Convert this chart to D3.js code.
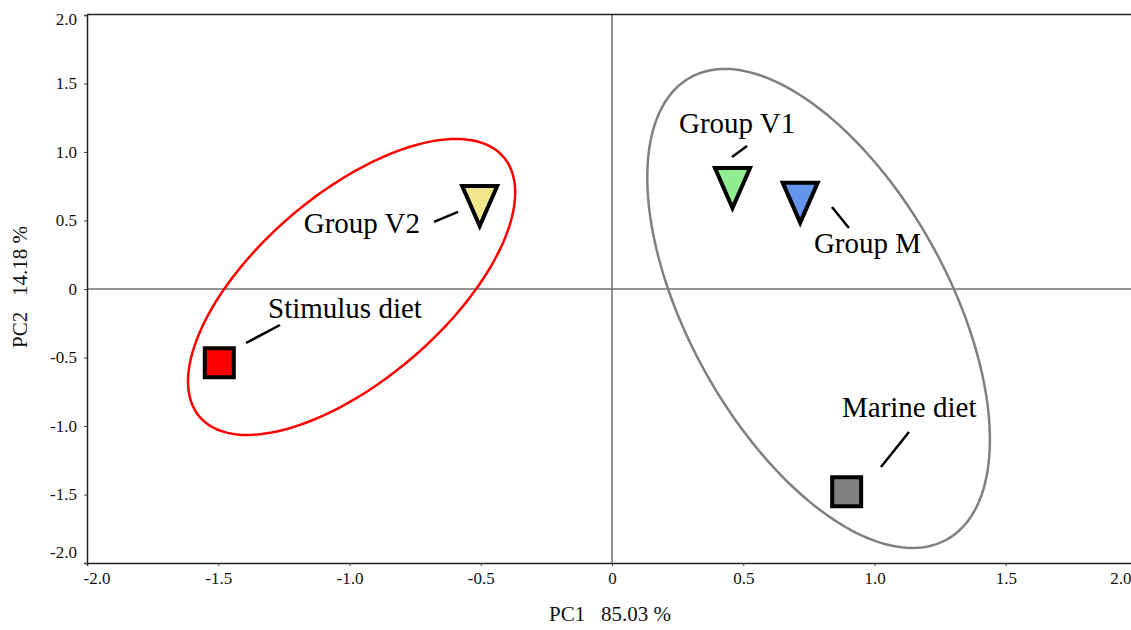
<!DOCTYPE html>
<html>
<head>
<meta charset="utf-8">
<script src="https://cdn.jsdelivr.net/npm/d3@7"></script>
<style>
  html, body { margin: 0; padding: 0; background: #fff; }
  svg { display: block; font-family: "Liberation Serif", "Times New Roman", serif; }
</style>
</head>
<body>
<svg id="chart" width="1131" height="630"></svg>
<script>
// Sample scores on the first two principal components
const sampleNames = ["Stimulus diet", "Group V2", "Group V1", "Group M", "Marine diet"];
const pc1Scores   = [-1.496, -0.504, 0.459, 0.717, 0.894];
const pc2Scores   = [-0.538, 0.655, 0.786, 0.679, -1.480];
const markerShapes = ["square", "triangleDown", "triangleDown", "triangleDown", "square"];
const markerFills  = ["#ff0000", "#f0e68c", "#90ee90", "#6495ed", "#808080"];

// Group ellipses (centre, semi-axes and rotation in PC units)
const ellipseCx    = [-0.992, 0.787];
const ellipseCy    = [0.015, -0.142];
const ellipseRx    = [1.165, 1.788];
const ellipseRy    = [0.445, 0.534];
const ellipseAngle = [66.1, -77.3];
const ellipseColor = ["#ff0000", "#808080"];

// Axis ticks and titles
const tickValues = [-2.0, -1.5, -1.0, -0.5, 0, 0.5, 1.0, 1.5, 2.0];
const tickLabels = ["-2.0", "-1.5", "-1.0", "-0.5", "0", "0.5", "1.0", "1.5", "2.0"];
const xTitle = "PC1   85.03 %";
const yTitle = "PC2   14.18 %";

// Label placement relative to each marker (pixels): leader line and text anchor
const leaderFrom = [[26.7, -19.7], [-45.7, 22.7], [-0.5, -24.3], [31.7, 11], [34.3, -24.7]];
const leaderTo   = [[60.7, -37.7], [-21.7, 12.7], [14.5, -35.3], [48.7, 32], [62.3, -59.7]];
const labelAt    = [[48.7, -44.7], [-59.7, 33.7], [-53.5, -48.3], [13.7, 57], [-4.7, -74.7]];
const labelAnchor = ["start", "end", "start", "start", "start"];

const svg = d3.select("#chart");
const plotLeft = 87, plotRight = 1137, plotTop = 15, plotBottom = 563;

const x = d3.scaleLinear().domain([-2, 2]).range([plotLeft, plotRight]);
const y = d3.scaleLinear().domain([-2, 2]).range([plotBottom, plotTop]);

const fmt = v => tickLabels[tickValues.indexOf(v)];

// Zero reference lines
svg.append("line")
  .attr("x1", x(0)).attr("x2", x(0)).attr("y1", plotTop).attr("y2", plotBottom)
  .attr("stroke", "#707070").attr("stroke-width", 1.5);
svg.append("line")
  .attr("x1", plotLeft).attr("x2", plotRight).attr("y1", y(0)).attr("y2", y(0))
  .attr("stroke", "#707070").attr("stroke-width", 1.5);

// Top frame line
svg.append("line")
  .attr("x1", plotLeft).attr("x2", plotRight).attr("y1", plotTop - 0.5).attr("y2", plotTop - 0.5)
  .attr("stroke", "#222").attr("stroke-width", 1.5);

// X axis
const xAxis = svg.append("g")
  .attr("transform", `translate(0,${plotBottom})`)
  .call(d3.axisBottom(x).tickValues(tickValues).tickFormat(fmt).tickSize(3).tickPadding(6));
xAxis.attr("font-family", null);
xAxis.select(".domain").attr("stroke", "#222").attr("stroke-width", 1.5);
xAxis.selectAll(".tick line").attr("stroke", "#444");
xAxis.selectAll(".tick text")
  .attr("font-family", "Liberation Serif, serif").attr("font-size", 17).attr("fill", "#111")
  .attr("text-anchor", d => d === -2 ? "start" : d === 2 ? "end" : "middle")
  .attr("dx", d => d === -2 ? -4 : d === 2 ? -6 : 0);

// Y axis
const yAxis = svg.append("g")
  .attr("transform", `translate(${plotLeft},0)`)
  .call(d3.axisLeft(y).tickValues(tickValues).tickFormat(fmt).tickSize(3).tickPadding(7));
yAxis.attr("font-family", null);
yAxis.select(".domain").attr("stroke", "#222").attr("stroke-width", 1.5);
yAxis.selectAll(".tick line").attr("stroke", "#444");
yAxis.selectAll(".tick text")
  .attr("font-family", "Liberation Serif, serif").attr("font-size", 17).attr("fill", "#111")
  .attr("dy", d => d === 2 ? "0.55em" : d === -2 ? "-0.35em" : "0.32em");

// Axis titles
svg.append("text")
  .attr("x", 610).attr("y", 621)
  .attr("text-anchor", "middle").attr("font-size", 21).attr("fill", "#111")
  .style("white-space", "pre")
  .text(xTitle);
svg.append("text")
  .attr("transform", "translate(27,287) rotate(-90)")
  .attr("text-anchor", "middle").attr("font-size", 21).attr("fill", "#111")
  .style("white-space", "pre")
  .text(yTitle);

// Ellipses traced through the data scales
const steps = d3.range(0, 360, 2).map(d => d * Math.PI / 180);
const ellipseLine = d3.line().x(d => x(d[0])).y(d => y(d[1])).curve(d3.curveLinearClosed);
ellipseCx.forEach((cx, i) => {
  const a = ellipseAngle[i] * Math.PI / 180;
  const pts = steps.map(t => {
    const u = ellipseRx[i] * Math.cos(t), v = ellipseRy[i] * Math.sin(t);
    return [cx + u * Math.cos(a) - v * Math.sin(a), ellipseCy[i] + u * Math.sin(a) + v * Math.cos(a)];
  });
  svg.append("path")
    .attr("d", ellipseLine(pts))
    .attr("fill", "none")
    .attr("stroke", ellipseColor[i])
    .attr("stroke-width", 2.5);
});

// Marker shapes
function markerPath(shape) {
  if (shape === "square") {
    const s = 29;
    return `M${-s/2},${-s/2}H${s/2}V${s/2}H${-s/2}Z`;
  }
  const w = 35, h = 40;
  return `M${-w/2},${-h/3}L${w/2},${-h/3}L0,${2*h/3}Z`;
}

const samples = sampleNames.map((name, i) => ({
  name, pc1: pc1Scores[i], pc2: pc2Scores[i], shape: markerShapes[i], fill: markerFills[i], i
}));

// Leader lines
svg.append("g").selectAll("line").data(samples).join("line")
  .attr("x1", d => x(d.pc1) + leaderFrom[d.i][0])
  .attr("y1", d => y(d.pc2) + leaderFrom[d.i][1])
  .attr("x2", d => x(d.pc1) + leaderTo[d.i][0])
  .attr("y2", d => y(d.pc2) + leaderTo[d.i][1])
  .attr("stroke", "#000").attr("stroke-width", 2.5);

// Markers
svg.append("g").selectAll("path").data(samples).join("path")
  .attr("transform", d => `translate(${x(d.pc1)},${y(d.pc2)})`)
  .attr("d", d => markerPath(d.shape))
  .attr("fill", d => d.fill)
  .attr("stroke", "#000")
  .attr("stroke-width", 4)
  .attr("stroke-linejoin", "miter");

// Sample labels
svg.append("g").selectAll("text").data(samples).join("text")
  .attr("x", d => x(d.pc1) + labelAt[d.i][0])
  .attr("y", d => y(d.pc2) + labelAt[d.i][1])
  .attr("text-anchor", d => labelAnchor[d.i])
  .attr("font-size", 29)
  .attr("fill", "#000")
  .text(d => d.name);
</script>
</body>
</html>
